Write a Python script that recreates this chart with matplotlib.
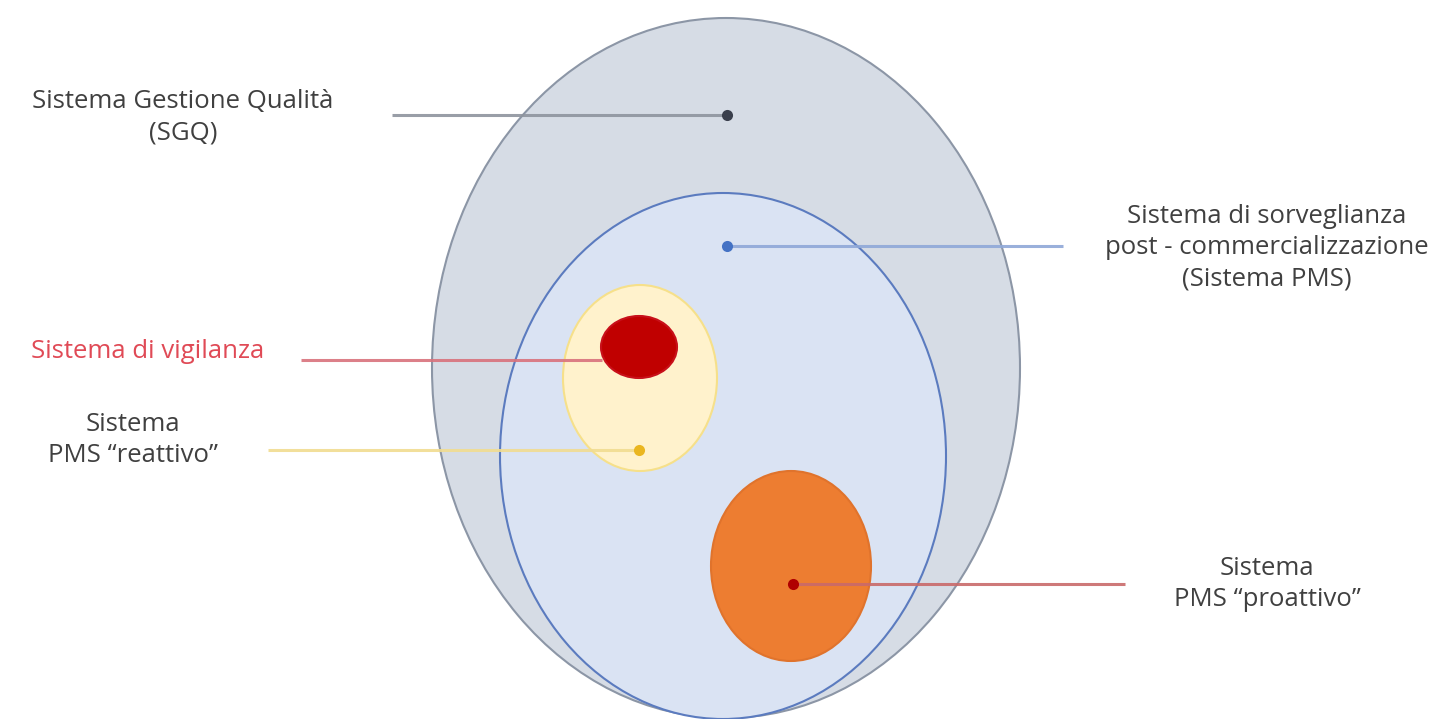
import matplotlib
matplotlib.use("Agg")
import matplotlib.pyplot as plt
from matplotlib.patches import Ellipse
from matplotlib import font_manager

# ---- data ----
ellipse_names = ["SGQ", "PMS", "reattivo", "vigilanza", "proattivo"]
ellipse_cx = [726, 723, 640, 639, 791]
ellipse_cy = [368, 456, 378, 347, 566]
ellipse_w = [588, 446, 154, 76, 160]
ellipse_h = [700, 526, 186, 62, 190]

label_texts = [
    "Sistema Gestione Qualità\n(SGQ)",
    "Sistema di sorveglianza\npost - commercializzazione\n(Sistema PMS)",
    "Sistema di vigilanza",
    "Sistema\nPMS \u201creattivo\u201d",
    "Sistema\nPMS \u201cproattivo\u201d",
]
label_x = [183, 1267, 148, 133, 1267]
label_y = [117, 248, 352, 440, 584]

leader_x0 = [392, 727, 301, 268, 793]
leader_x1 = [727, 1063, 602, 639, 1125]
leader_y = [115, 246, 360, 450, 584]
dot_x = [727, 727, None, 639, 793]

# ---- style ----
fills = ["#d6dce5", "#dae3f3", "#fff2cc", "#c00000", "#ed7d31"]
edges = ["#8c96a6", "#5b7bbf", "#f6e08a", "#c8101a", "#e0732c"]
line_cols = ["#8e949e", "#8fa8d8", "#d9727c", "#f1dc90", "#c96a6a"]
dot_cols = ["#3a3f4c", "#4472c4", "#c80000", "#eab620", "#b00000"]
text_cols = ["#404040", "#404040", "#e04a56", "#404040", "#404040"]

avail = {f.name for f in font_manager.fontManager.ttflist}
fam = [f for f in ["Liberation Sans Narrow", "Open Sans", "DejaVu Sans"] if f in avail]
plt.rcParams["font.family"] = fam

fig = plt.figure(figsize=(14.52, 7.19), dpi=100)
ax = fig.add_axes([0, 0, 1, 1])
ax.set_xlim(0, 1452)
ax.set_ylim(719, 0)
ax.axis("off")

for i in range(len(ellipse_names)):
    ax.add_patch(Ellipse((ellipse_cx[i], ellipse_cy[i]), ellipse_w[i], ellipse_h[i],
                         facecolor=fills[i], edgecolor=edges[i], lw=1.5, zorder=1 + i))

for i in range(len(leader_y)):
    ax.plot([leader_x0[i], leader_x1[i]], [leader_y[i], leader_y[i]],
            color=line_cols[i], lw=2.2, alpha=0.9, zorder=10, solid_capstyle="butt")
    if dot_x[i] is not None:
        ax.plot([dot_x[i]], [leader_y[i]], "o", ms=8, color=dot_cols[i], zorder=11,
                markeredgewidth=0)

for i, t in enumerate(label_texts):
    ax.text(label_x[i], label_y[i], t, ha="center", va="center",
            fontsize=18.5, color=text_cols[i], linespacing=1.32, zorder=12)

fig.savefig("out.png", dpi=100)
